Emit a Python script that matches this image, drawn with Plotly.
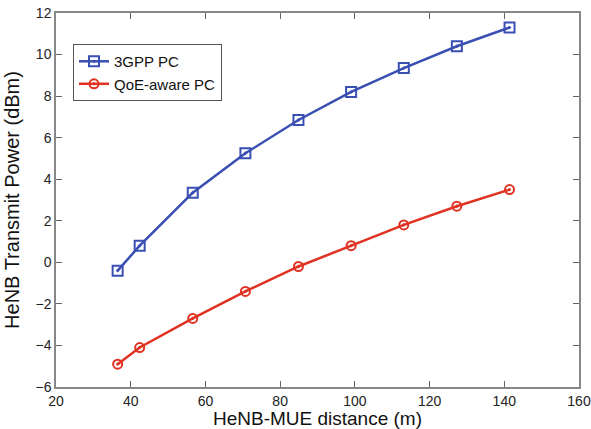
import plotly.graph_objects as go

distance = [36.5, 42.4, 56.6, 70.7, 84.9, 99.0, 113.1, 127.3, 141.4]
pc_3gpp = [-0.4, 0.8, 3.35, 5.25, 6.85, 8.2, 9.35, 10.4, 11.3]
pc_qoe = [-4.9, -4.1, -2.7, -1.4, -0.2, 0.8, 1.8, 2.7, 3.5]

font = "Liberation Sans, Arial, sans-serif"
fig = go.Figure()
fig.add_trace(go.Scatter(x=distance, y=pc_3gpp, mode="lines+markers", name="3GPP PC",
                         line=dict(color="#3a4fb2", width=2.5),
                         marker=dict(symbol="square-open-dot", size=10, color="#3a4fb2",
                                     line=dict(width=2, color="#3a4fb2"))))
fig.add_trace(go.Scatter(x=distance, y=pc_qoe, mode="lines+markers", name="QoE-aware PC",
                         line=dict(color="#e03222", width=2.5),
                         marker=dict(symbol="circle-open-dot", size=9, color="#e03222",
                                     line=dict(width=2, color="#e03222"))))

axis_common = dict(showgrid=False, zeroline=False, showline=True, linecolor="#888888",
                   linewidth=1.5, mirror="ticks", ticks="inside", ticklen=6,
                   tickcolor="#666666", automargin=False, ticklabeloverflow="allow",
                   tickfont=dict(family=font, size=14, color="#222222"))
fig.update_xaxes(range=[20, 160], dtick=20, title=dict(text="HeNB-MUE distance (m)",
                 font=dict(family=font, size=19, color="#111111"), standoff=17), **axis_common)
fig.update_yaxes(range=[-6, 12], dtick=2, title=dict(text="HeNB Transmit Power (dBm)",
                 font=dict(family=font, size=20, color="#111111"), standoff=10), **axis_common)

fig.update_layout(width=591, height=429, margin=dict(l=56, r=12, t=13, b=42),
                  plot_bgcolor="white", paper_bgcolor="white",
                  legend=dict(x=0.0325, y=0.917, xanchor="left", yanchor="top",
                              bgcolor="white", bordercolor="#555555", borderwidth=1,
                              font=dict(family=font, size=15, color="#111111"),
                              tracegroupgap=0),
                  showlegend=True)
fig.write_html("out.html", config={"displayModeBar": False},
               post_script="document.body.style.margin='0';")
